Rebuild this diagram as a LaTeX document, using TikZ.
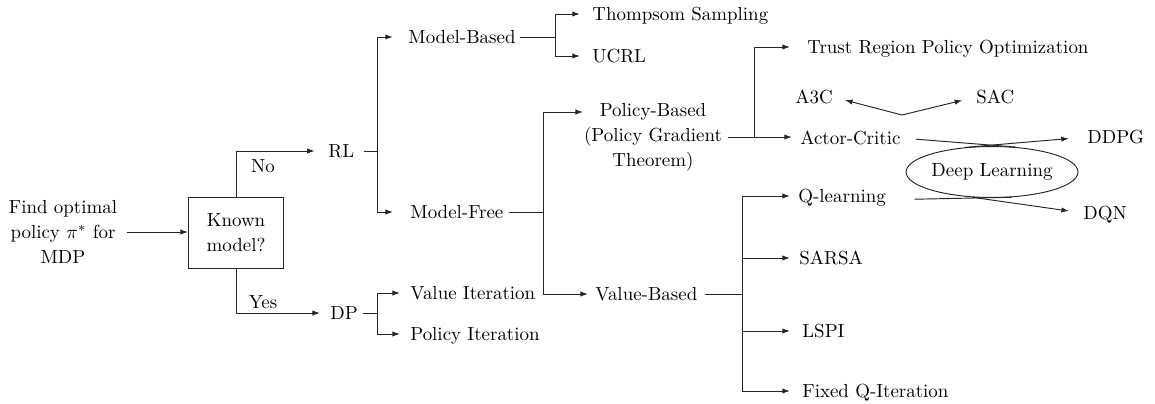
\documentclass[tikz,border=0pt]{standalone}
\usetikzlibrary{arrows.meta,shapes.geometric,calc}
\begin{document}
\begin{tikzpicture}[x=0.528pt,y=-0.528pt,
  lbl/.style={inner sep=0pt, anchor=west, text height=6.8pt, text depth=0pt},
  link/.style={draw=black!85, line width=0.5pt},
  arr/.style={link, -{Latex[length=4pt,width=2.8pt]}},
]
\useasboundingbox (0,0) rectangle (1155,403);

% starting question and decision box
\node[align=center, inner sep=0pt] (goal) at (63,232)
  {Find optimal\\[1.2pt]policy $\pi^*$ for\\[1.2pt]MDP};
\node[draw=black!85, line width=0.5pt, minimum width=50.2pt, minimum height=37pt,
      align=center, inner sep=0pt] (known) at (236,233) {Known\\[1.3pt]model?};
\node (no)  at (263,166) {No};
\node (yes) at (263,302) {Yes};

% main families
\node[lbl] (rl) at (328,151) {RL};
\node[lbl] (dp) at (330,313) {DP};
\node[lbl] (mb) at (408,37)  {Model-Based};
\node[lbl] (mf) at (410,212) {Model-Free};
\node[lbl] (ts) at (592,14)  {Thompsom Sampling};
\node[lbl] (ucrl) at (592,56) {UCRL};
\node[lbl] (vi) at (410,293) {Value Iteration};
\node[lbl] (pi) at (410,334) {Policy Iteration};
\node[align=center, inner sep=0pt] (pb) at (653,137)
  {Policy-Based\\[1.2pt](Policy Gradient\\[1.2pt]Theorem)};
\node[lbl] (vb) at (595,294) {Value-Based};

% policy-based methods
\node[lbl] (trpo) at (807,47)  {Trust Region Policy Optimization};
\node[lbl] (ac)   at (800,138) {Actor-Critic};
\node[lbl] (a3c)  at (795,97)  {A3C};
\node[lbl] (sac)  at (976,97)  {SAC};
\node[lbl] (ddpg) at (1087,137) {DDPG};
\node[lbl] (dqn)  at (1083,213) {DQN};
\node[ellipse, draw=black!85, line width=0.5pt, minimum width=90.8pt,
      minimum height=26.9pt, inner sep=0pt] (dl) at (992,172) {Deep Learning};

% value-based methods
\node[lbl] (ql)    at (798,196) {Q-learning};
\node[lbl] (sarsa) at (799,258) {SARSA};
\node[lbl] (lspi)  at (802,331) {LSPI};
\node[lbl] (fqi)   at (802,391) {Fixed Q-Iteration};

% branching points
\coordinate (rlfork) at (377,151);
\coordinate (dpfork) at (377,313);
\coordinate (mbfork) at (555,37);
\coordinate (mffork) at (543,212);
\coordinate (pbin)   at (583,112);
\coordinate (pbfork) at (754,137);
\coordinate (vbfork) at (742,294);
\coordinate (acfork) at (902,115);

% connectors
\draw[arr, shorten <=5pt] (goal.east) -- (goal.east -| known.west);
\draw[arr, shorten >=7pt] (known.north) |- (rl.west);
\draw[arr, shorten >=5.3pt] (known.south) |- (dp.west);

\draw[link, shorten <=4.8pt] (rl.east) -- (rlfork);
\draw[arr, shorten >=8pt] (rlfork) |- (mb.west);
\draw[arr, shorten >=9pt] (rlfork) |- (mf.west);

\draw[link, shorten <=2pt] (mb.east) -- (mbfork);
\draw[arr, shorten >=6.4pt] (mbfork) |- (ts.west);
\draw[arr, shorten >=6.4pt] (mbfork) |- (ucrl.west);

\draw[link, shorten <=2.7pt] (mf.east) -- (mffork);
\draw[arr] (mffork) |- (pbin);
\draw[arr, shorten >=3.7pt] (mffork) |- (vb.west);

\draw[link, shorten <=2.7pt] (dp.east) -- (dpfork);
\draw[arr, shorten >=5.3pt] (dpfork) |- (vi.west);
\draw[arr, shorten >=5.3pt] (dpfork) |- (pi.west);

\draw[link, shorten <=3.2pt] (pb.east) -- (pbfork);
\draw[arr, shorten >=9pt] (pbfork) |- (trpo.west);
\draw[arr, shorten >=4.3pt] (pbfork) -- (pbfork -| ac.west);
\draw[arr, shorten >=6.5pt] (acfork) -- (a3c.east);
\draw[arr, shorten >=7.5pt] (acfork) -- (sac.west);

\draw[link, shorten <=8pt] (ac.east) -- (dl.47);
\draw[arr, shorten >=9.6pt] (dl.138) -- (ddpg.west);
\draw[link, shorten <=15pt] ([yshift=-2pt]ql.east) -- (dl.-52);
\draw[arr, shorten >=7.5pt] (dl.-128) -- (dqn.west);

\draw[link, shorten <=3.7pt] (vb.east) -- (vbfork);
\draw[arr, shorten >=4.3pt] (vbfork) |- (ql.west);
\draw[arr, shorten >=4.8pt] (vbfork) |- (sarsa.west);
\draw[arr, shorten >=6.4pt] (vbfork) |- (lspi.west);
\draw[arr, shorten >=6.4pt] (vbfork) |- (fqi.west);
\end{tikzpicture}
\end{document}
